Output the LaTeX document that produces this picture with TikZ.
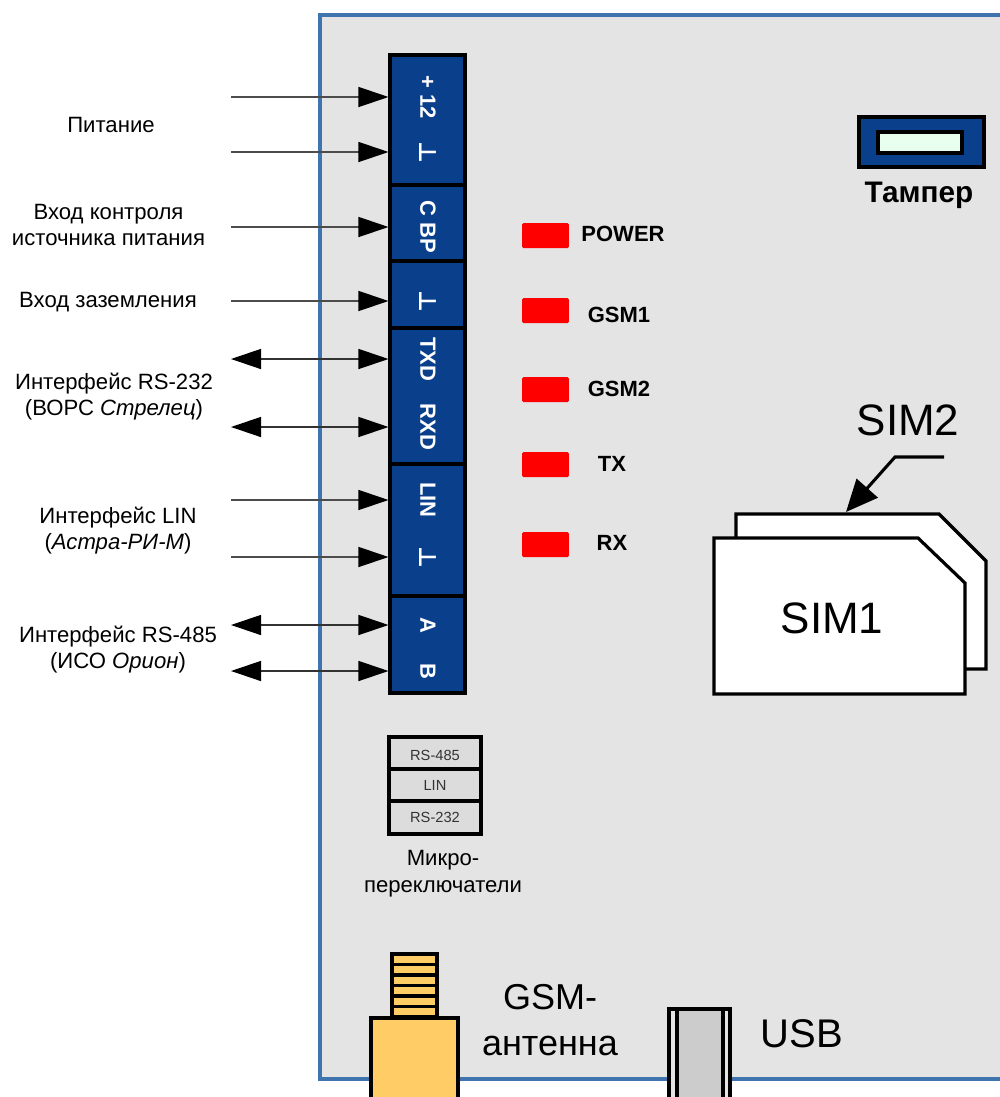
\documentclass[tikz,border=0pt]{standalone}
\usepackage{fontspec}
\setmainfont{Liberation Sans}
\newfontfamily\symfont{DejaVu Sans}
\usetikzlibrary{arrows.meta, fit}
\definecolor{board-gray}{HTML}{E4E4E4}
\definecolor{board-line}{HTML}{3F75AE}
\definecolor{term-blue}{HTML}{0A3F8C}
\definecolor{led-red}{HTML}{FF0000}
\definecolor{switch-gray}{HTML}{DCDCDC}
\definecolor{ant-gold}{HTML}{FFCC66}
\definecolor{usb-gray}{HTML}{CCCCCC}
\definecolor{tamper-key}{HTML}{E8FFEF}
\newcommand{\gndsym}{{\symfont\fontsize{18}{18}\selectfont ⊥}}
\tikzset{
  termblock/.style={draw=black, line width=2.3pt, fill=term-blue, inner sep=0pt},
  pinlabel/.style={rotate=-90, text=white, font=\fontsize{16.5}{18}\selectfont\bfseries},
  sideline/.style={draw=black!70, line width=1pt, -{Triangle[length=22.5pt,width=15pt,color=black]}},
  bothline/.style={draw=black!80, line width=1pt, {Triangle[length=22.5pt,width=15pt,color=black]}-{Triangle[length=22.5pt,width=15pt,color=black]}},
  sidelabel/.style={align=center, font=\fontsize{16.6}{19.5}\selectfont},
  ledbox/.style={fill=led-red, rounded corners=1pt, minimum width=35pt, minimum height=18.75pt, inner sep=0pt},
  ledlabel/.style={font=\fontsize{16.5}{18}\selectfont\bfseries},
  switchbox/.style={draw=black, line width=2.3pt, fill=switch-gray, inner sep=0pt,
    text=black!80, font=\fontsize{11}{12}\selectfont},
  simcard/.style={draw=black, line width=2.4pt, fill=white, line join=miter},
  biglabel/.style={font=\fontsize{33}{36}\selectfont},
  partline/.style={draw=black, line width=2.3pt}
}
\begin{document}
\begin{tikzpicture}[x=0.75pt, y=-0.75pt]
    \clip (0,0) rectangle (1000,1097);
    \fill[white] (0,0) rectangle (1000,1097);
    \fill[board-gray] (320,15) rectangle (1000,1079);
    \draw[board-line, line width=2.3pt] (1002,15) -- (320,15) -- (320,1079) -- (1002,1079);

    \node[termblock, fit={(390,55) (465,185)}] (blockPower) {};
    \node[termblock, fit={(390,185) (465,261)}] (blockBP) {};
    \node[termblock, fit={(390,261) (465,328)}] (blockGnd) {};
    \node[termblock, fit={(390,328) (465,464)}] (blockRS232) {};
    \node[termblock, fit={(390,464) (465,596)}] (blockLIN) {};
    \node[termblock, fit={(390,596) (465,693)}] (blockRS485) {};

    \foreach \name/\y/\txt/\blk in {pwrA/97/+ 12/blockPower, pwrB/152/\gndsym/blockPower,
        cbp/227/C BP/blockBP, gnd/301/\gndsym/blockGnd, lin/500/LIN/blockLIN, linB/557/\gndsym/blockLIN} {
      \node[pinlabel] (\name) at (428,\y) {\txt};
      \coordinate (\name src) at (231,\y);
      \draw[sideline] (\name src) -- (\name src -| \blk.west);
    }
    \foreach \name/\y/\txt/\blk in {txd/359/TXD/blockRS232, rxd/427/RXD/blockRS232,
        busA/625/A/blockRS485, busB/671/B/blockRS485} {
      \node[pinlabel] (\name) at (428,\y) {\txt};
      \coordinate (\name src) at (231,\y);
      \draw[bothline] (\name src) -- (\name src -| \blk.west);
    }

    \node[sidelabel] (lblPower) at (111,125) {Питание};
    \node[sidelabel] (lblControl) at (108.5,225) {Вход контроля\\источника питания};
    \node[sidelabel] (lblEarth) at (108,302) {Вход заземления};
    \node[sidelabel] (lblRS232) at (114,397) {Интерфейс RS-232\\(ВОРС \textit{Стрелец})};
    \node[sidelabel] (lblLIN) at (118,531) {Интерфейс LIN\\(\textit{Астра-РИ-М})};
    \node[sidelabel] (lblRS485) at (118,650) {Интерфейс RS-485\\(ИСО \textit{Орион})};

    \foreach \name/\y in {Power/235.5, GSMa/310.5, GSMb/389.5, TX/464.5, RX/544.5} {
      \node[ledbox] (led\name) at (545.5,\y) {};
    }
    \node[ledlabel] (txtPower) at (623,234) {POWER};
    \node[ledlabel] (txtGSMa) at (619,315) {GSM1};
    \node[ledlabel] (txtGSMb) at (619,389) {GSM2};
    \node[ledlabel] (txtTX) at (612,464) {TX};
    \node[ledlabel] (txtRX) at (612,543) {RX};

    \node[termblock, fit={(859,117) (984,167)}] (tamper) {};
    \node[draw=black, line width=2.3pt, fill=tamper-key, inner sep=0pt, fit={(878,132) (962,153)}] (tamperKey) {};
    \node[font=\fontsize{22.3}{24}\selectfont\bfseries] (tamperLbl) at (919,195) {Тампер};

    \draw[simcard] (736,540) -- (736,514) -- (939,514) -- (986,561) -- (986,669) -- (960,669) -- cycle;
    \draw[simcard] (714,538) -- (918,538) -- (965,583) -- (965,694) -- (714,694) -- cycle;
    \node[biglabel] (sim1) at (832,618) {SIM1};
    \node[biglabel] (sim2) at (908,420) {SIM2};
    \coordinate (sim2src) at (944,457);
    \coordinate (sim2bend) at (895,457);
    \coordinate (sim2top) at (846,512);
    \draw[line width=2.3pt, -{Triangle[length=24pt,width=21pt]}] (sim2src) -- (sim2bend) -- (sim2top);

    \node[switchbox, fit={(389,737) (481,769)}, label={[switchbox, draw=none, fill=none, yshift=-1.5pt]center:RS-485}] (swA) {};
    \node[switchbox, fit={(389,769) (481,801)}, label={[switchbox, draw=none, fill=none]center:LIN}] (swB) {};
    \node[switchbox, fit={(389,801) (481,834)}, label={[switchbox, draw=none, fill=none]center:RS-232}] (swC) {};
    \node[align=center, font=\fontsize{16.6}{20}\selectfont] (swLbl) at (443,874) {Микро-\\переключатели};

    \foreach \y in {954,964.5,...,1008} {
      \draw[partline, fill=ant-gold] (392,\y) rectangle (437,\y+10.5);
    }
    \draw[partline, fill=ant-gold] (371,1018) rectangle (458,1110);
    \node[font=\fontsize{27}{34.5}\selectfont, align=center] (gsmLbl) at (550,1020) {GSM-\\антенна};

    \draw[partline, fill=usb-gray] (669,1009) rectangle (730,1110);
    \draw[partline, fill=board-gray] (669,1009) rectangle (677,1110);
    \draw[partline, fill=board-gray] (723,1009) rectangle (730,1110);
    \node[font=\fontsize{30}{32}\selectfont] (usbLbl) at (802,1034) {USB};
  \end{tikzpicture}
\end{document}
